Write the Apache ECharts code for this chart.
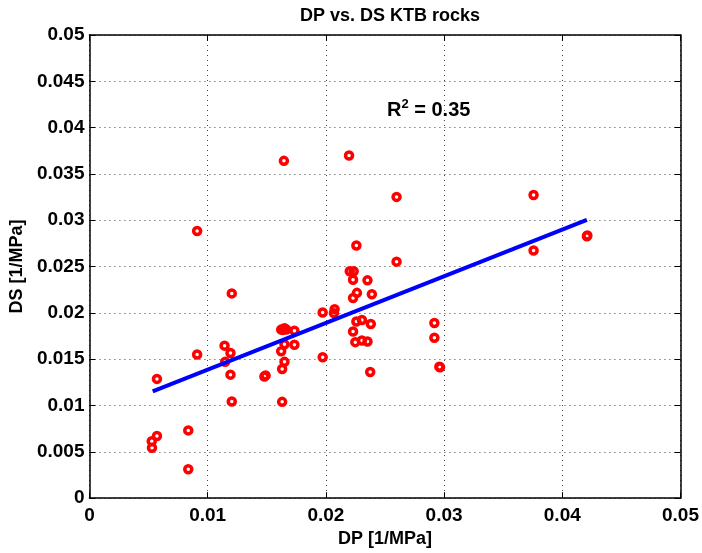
<!DOCTYPE html>
<html>
<head>
<meta charset="utf-8">
<script src="https://cdn.jsdelivr.net/npm/echarts@6/dist/echarts.min.js"></script>
<style>html,body{margin:0;padding:0;background:#fff}#c{width:702px;height:553px}</style>
</head>
<body>
<div id="c"></div>
<script>
// Data
const dpValues = [
  0.01204, 0.01143, 0.01193, 0.00911, 0.01148, 0.00571, 0.01193, 0.01480, 0.01490, 0.01204,
  0.01630, 0.00836, 0.00571, 0.00527, 0.00529, 0.00836, 0.00911, 0.01645, 0.02196, 0.02598,
  0.02258, 0.02598, 0.02202, 0.02235, 0.02230, 0.02352, 0.02263, 0.02230, 0.02389, 0.01973,
  0.02074, 0.02068, 0.01622, 0.01650, 0.01734, 0.01636, 0.01665, 0.02258, 0.02305, 0.02380,
  0.02230, 0.02249, 0.02305, 0.02352, 0.01650, 0.01734, 0.01622, 0.01650, 0.01630, 0.01973,
  0.02375, 0.02918, 0.02918, 0.02960, 0.02966, 0.03757, 0.03757, 0.04208, 0.04212
];
const dsValues = [
  0.02210, 0.01646, 0.01567, 0.01550, 0.01471, 0.01287, 0.01333, 0.01312, 0.01325, 0.01043,
  0.01039, 0.00731, 0.00670, 0.00614, 0.00543, 0.00312, 0.02883, 0.03641, 0.03699, 0.03252,
  0.02727, 0.02553, 0.02450, 0.02450, 0.02358, 0.02351, 0.02216, 0.02160, 0.02200, 0.02003,
  0.02040, 0.01997, 0.01819, 0.01833, 0.01808, 0.01816, 0.01820, 0.01907, 0.01922, 0.01880,
  0.01798, 0.01684, 0.01702, 0.01691, 0.01660, 0.01656, 0.01585, 0.01471, 0.01394, 0.01521,
  0.01362, 0.01890, 0.01731, 0.01418, 0.01412, 0.03273, 0.02673, 0.02827, 0.02835
];
const fitX = [0.00535, 0.04208];
const fitY = [0.01152, 0.03003];
const xTicks = [0, 0.01, 0.02, 0.03, 0.04, 0.05];
const yTicks = [0, 0.005, 0.01, 0.015, 0.02, 0.025, 0.03, 0.035, 0.04, 0.045, 0.05];
const titleText = 'DP vs. DS KTB rocks';
const xName = 'DP [1/MPa]';
const yName = 'DS [1/MPa]';
const r2Pos = [0.0287, 0.0418];
const r2Value = '0.35';

const FONT = '"Liberation Sans", Arial, sans-serif';
const scatterData = dpValues.map((v, i) => [v, dsValues[i]]);
const fitData = fitX.map((v, i) => [v, fitY[i]]);
const fmt = v => Number(v.toFixed(4)).toString();

const chart = echarts.init(document.getElementById('c'), null, { renderer: 'canvas' });
const axisCommon = {
  type: 'value',
  axisLine: { show: true, onZero: false, lineStyle: { color: '#000', width: 1.5 } },
  axisTick: { show: true, inside: true, length: 6, lineStyle: { color: '#000', width: 1 } },
  axisLabel: { show: true, color: '#000', fontFamily: FONT, fontWeight: 'bold', fontSize: 19, formatter: fmt },
  nameTextStyle: { color: '#000', fontFamily: FONT, fontWeight: 'bold', fontSize: 18 }
};
chart.setOption({
  animation: false,
  backgroundColor: '#fff',
  title: {
    text: titleText, left: 385, top: 2, textAlign: 'center',
    textStyle: { color: '#000', fontFamily: FONT, fontWeight: 'bold', fontSize: 18 }
  },
  grid: { left: 86, right: 18, top: 35, bottom: 48, containLabel: false },
  xAxis: [
    Object.assign({}, axisCommon, {
      position: 'bottom', min: xTicks[0], max: xTicks[xTicks.length - 1], interval: xTicks[1] - xTicks[0],
      name: xName, nameLocation: 'middle', nameGap: 28,
      axisLabel: Object.assign({}, axisCommon.axisLabel, { margin: 8 }),
      splitLine: { show: true, lineStyle: { color: '#444', width: 1, type: [1, 4] } }
    }),
    Object.assign({}, axisCommon, {
      position: 'top', min: xTicks[0], max: xTicks[xTicks.length - 1], interval: xTicks[1] - xTicks[0],
      axisLabel: { show: false }, splitLine: { show: false }
    })
  ],
  yAxis: [
    Object.assign({}, axisCommon, {
      position: 'left', min: yTicks[0], max: yTicks[yTicks.length - 1], interval: yTicks[1] - yTicks[0],
      name: yName, nameLocation: 'middle', nameGap: 58,
      axisLabel: Object.assign({}, axisCommon.axisLabel, { margin: 5 }),
      splitLine: { show: true, lineStyle: { color: '#444', width: 1, type: [1, 4] } }
    }),
    Object.assign({}, axisCommon, {
      position: 'right', min: yTicks[0], max: yTicks[yTicks.length - 1], interval: yTicks[1] - yTicks[0],
      axisLabel: { show: false }, splitLine: { show: false }
    })
  ],
  series: [
    {
      type: 'scatter', data: scatterData, symbol: 'circle', symbolSize: 7, z: 2,
      itemStyle: { color: 'rgba(255,255,255,0)', borderColor: '#ff0000', borderWidth: 3.5, opacity: 1 }
    },
    {
      type: 'line', data: fitData, showSymbol: false, symbol: 'none', z: 3,
      lineStyle: { color: '#0000ff', width: 4 }
    }
  ]
});
const p = chart.convertToPixel({ gridIndex: 0 }, r2Pos);
chart.setOption({
  graphic: [{
    type: 'text', x: p[0], y: p[1], z: 10,
    style: {
      text: '{a|R}{b|2}{a| = ' + r2Value + '}',
      align: 'center', verticalAlign: 'middle',
      rich: {
        a: { fill: '#000', fontFamily: FONT, fontWeight: 'bold', fontSize: 20 },
        b: { fill: '#000', fontFamily: FONT, fontWeight: 'bold', fontSize: 13, padding: [0, 0, 14, 0] }
      }
    }
  }]
});
</script>
</body>
</html>
